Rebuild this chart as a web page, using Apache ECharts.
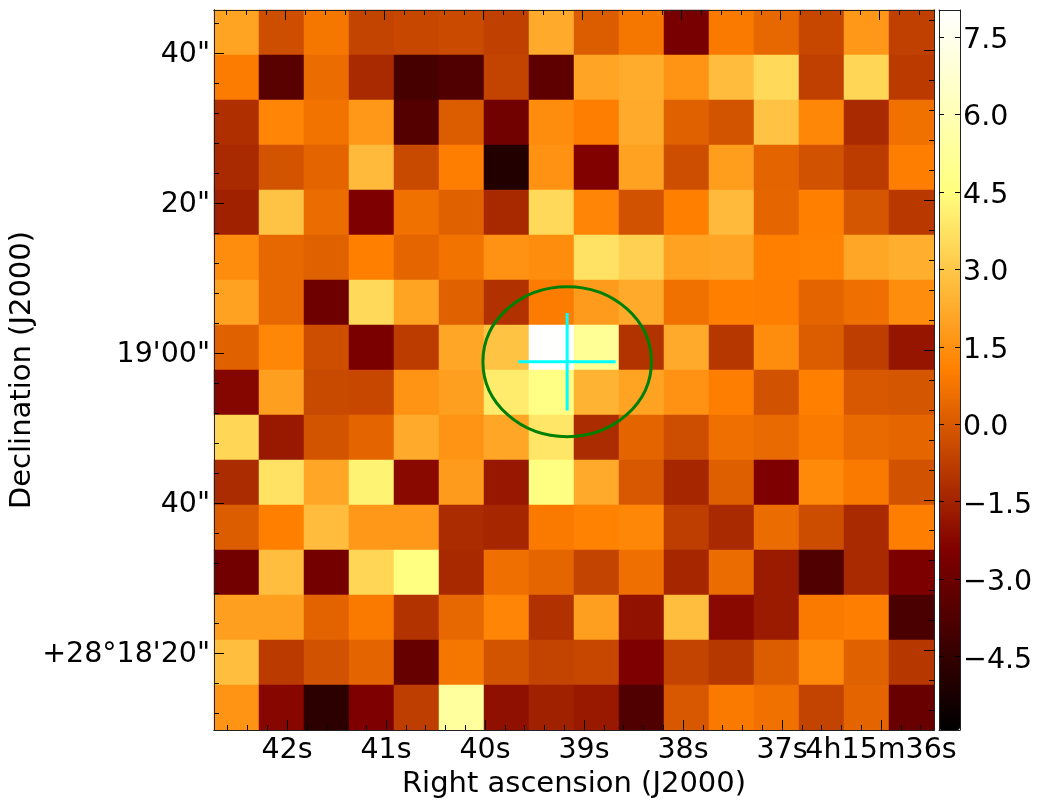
<!DOCTYPE html>
<html>
<head>
<meta charset="utf-8">
<title>Flux map</title>
<script src="https://cdn.jsdelivr.net/npm/echarts@6/dist/echarts.min.js"></script>
<style>
  html, body { margin: 0; padding: 0; background: #fff; }
  #chart { width: 1039px; height: 802px; }
</style>
</head>
<body>
<div id="chart"></div>
<script>
// pixel values, top row first, left column first
var row1 = [2.0, -0.3, 0.8, -0.6, -0.5, -0.4, -0.7, 2.2, 0.1, 0.8, -2.65, 0.9, 0.4, -0.5, 1.7, -0.7];
var row2 = [0.95, -3.5, 0.5, -1.3, -4.0, -3.75, -0.6, -3.35, 2.05, 2.25, 1.6, 2.7, 3.5, -0.7, 3.4, -0.85];
var row3 = [-1.15, 1.2, 0.7, 1.7, -3.6, 0.1, -2.85, 1.4, 1.0, 2.2, 0.2, -0.15, 2.85, 1.25, -1.3, 0.65];
var row4 = [-1.3, -0.15, 0.3, 2.65, -0.45, 1.0, -5.0, 1.55, -2.4, 1.95, -0.3, 1.85, 0.3, -0.2, -0.8, 1.0];
var row5 = [-1.55, 2.9, 0.5, -2.45, 0.65, 0.2, -1.35, 3.5, 1.2, -0.2, 1.05, 2.65, 0.35, 1.05, -0.1, -0.9];
var row6 = [1.4, 0.4, 0.2, 1.05, 0.35, 0.7, 1.55, 1.4, 3.75, 3.25, 1.95, 2.05, 1.05, 1.1, 2.1, 2.3];
var row7 = [1.95, 0.4, -2.9, 3.5, 2.0, 0.2, -1.1, 0.95, 1.8, 2.2, 0.65, 1.05, 1.0, 0.3, 0.6, 1.4];
var row8 = [0.2, 1.25, -0.3, -2.6, -0.8, 2.1, 2.9, 8.0, 5.1, -1.05, 2.2, -0.95, 1.4, 0.1, -0.75, -1.85];
var row9 = [-2.3, 1.9, -0.45, -0.5, 1.6, 1.9, 4.0, 4.7, 2.45, 2.0, 1.55, 1.0, -0.2, 1.05, -0.05, -0.1];
var row10 = [3.4, -1.75, -0.15, 0.3, 2.2, 1.6, 2.1, 3.85, -1.25, 0.3, -0.3, 0.6, 0.45, 0.9, 0.45, 0.35];
var row11 = [-1.25, 3.75, 2.1, 4.2, -2.2, 1.8, -1.8, 4.55, 2.2, -0.05, -1.4, 0.15, -2.5, 1.3, 0.9, -0.2];
var row12 = [0.1, 1.05, 2.7, 1.7, 1.7, -1.25, -1.4, 0.9, 1.1, 1.25, -0.75, -1.3, 0.5, -0.35, -1.3, 1.0];
var row13 = [-2.8, 2.75, -2.75, 3.4, 4.6, -1.35, 0.6, 0.35, -0.6, 0.6, -1.4, 0.5, -1.7, -3.75, -1.3, -2.55];
var row14 = [1.9, 1.9, 0.25, 0.9, -1.05, 0.4, 1.2, -1.1, 1.9, -1.95, 2.75, -2.2, -1.7, 0.9, 1.0, -3.9];
var row15 = [2.75, -0.85, -0.2, 0.3, -3.15, 0.8, -0.15, -0.6, -0.5, -2.5, -0.6, -0.95, 0.1, 1.3, 0.2, -0.95];
var row16 = [1.6, -2.25, -4.7, -2.45, -0.75, 5.35, -2.0, -1.55, -1.75, -3.75, -0.05, 0.9, 0.65, -0.6, 0.3, -3.1];
var rows = [row1, row2, row3, row4, row5, row6, row7, row8, row9, row10, row11, row12, row13, row14, row15, row16];

// RA in seconds of 4h15m, Dec in arcsec past +28d18m
var raRange = [35.465, 42.737];
var decRange = [9.73, 105.73];
var raMajor = [42, 41, 40, 39, 38, 37, 36];
var raLabels = ["42s", "41s", "40s", "39s", "38s", "37s", "4h15m36s"];
var raMinor = [42.6, 42.4, 42.2, 41.8, 41.6, 41.4, 41.2, 40.8, 40.6, 40.4, 40.2, 39.8, 39.6, 39.4, 39.2, 38.8, 38.6, 38.4, 38.2, 37.8, 37.6, 37.4, 37.2, 36.8, 36.6, 36.4, 36.2, 35.8, 35.6];
var decMajor = [20, 40, 60, 80, 100];
var decLabels = ["+28°18'20\"", "40\"", "19'00\"", "20\"", "40\""];
var decMinor = [12, 16, 24, 28, 32, 36, 44, 48, 52, 56, 64, 68, 72, 76, 84, 88, 92, 96, 104];

// the top and right ticks sit slightly off the bottom and left ones
var raTopMajor = [42.013, 41.013, 40.013, 39.013, 38.013, 37.013, 36.013];
var raTopMinor = [42.613, 42.413, 42.213, 41.813, 41.613, 41.413, 41.213, 40.813, 40.613, 40.413, 40.213, 39.813, 39.613, 39.413, 39.213, 38.813, 38.613, 38.413, 38.213, 37.813, 37.613, 37.413, 37.213, 36.813, 36.613, 36.413, 36.213, 35.813, 35.613];
var decRightMajor = [20.4, 40.4, 60.4, 80.4, 100.4];
var decRightMinor = [12.4, 16.4, 24.4, 28.4, 32.4, 36.4, 44.4, 48.4, 52.4, 56.4, 64.4, 68.4, 72.4, 76.4, 84.4, 88.4, 92.4, 96.4, 104.4];

var colorRange = [-5.92, 8.02];
var colorTicks = [-4.5, -3.0, -1.5, 0.0, 1.5, 3.0, 4.5, 6.0, 7.5];
var afmhot = ["#000000", "#800000", "#ff8000", "#ffff80", "#ffffff"];

var beamCenter = [39.17, 58.84];
var beamRadius = [0.851, 10];
var crossH = [[39.663, 58.84], [38.68, 58.84]];
var crossV = [[39.17, 65.34], [39.17, 52.34]];

var font = "DejaVu Sans";
var tickFontSize = 28.5;
var titleFontSize = 29;

var chart = echarts.init(document.getElementById("chart"), null, { renderer: "canvas" });

var cells = [];
rows.forEach(function (row, r) {
  row.forEach(function (v, c) {
    cells.push([c, r, v]);
  });
});
var indexes = row1.map(function (v, i) { return i; });

// helper: one overlay axis, used once per tick length per side
function tickAxis(position, gridIndex, range, ticks, len, inverse) {
  return {
    type: "value",
    gridIndex: gridIndex,
    position: position,
    min: range[0],
    max: range[1],
    inverse: !!inverse,
    z: 5,
    splitLine: { show: false },
    axisLine: { show: true, onZero: false, lineStyle: { color: "#222", width: 1 } },
    axisTick: { show: true, inside: true, length: len, customValues: ticks, lineStyle: { color: "#000", width: 1 } },
    axisLabel: { show: false },
  };
}

function raLabel(values) {
  return {
    show: true,
    customValues: values,
    margin: 6,
    hideOverlap: false,
    showMinLabel: true,
    showMaxLabel: true,
    color: "#000",
    fontFamily: font,
    fontSize: tickFontSize,
    formatter: function (v) { return raLabels[raMajor.indexOf(v)]; },
  };
}

var raAxis = tickAxis("bottom", 0, raRange, raMajor, 10, true);
raAxis.axisLabel = raLabel(raMajor.slice(0, 6));
raAxis.name = "Right ascension (J2000)";
raAxis.nameLocation = "middle";
raAxis.nameGap = 35;
raAxis.nameTextStyle = { color: "#000", fontFamily: font, fontSize: titleFontSize };

// the long 4h15m36s label touches 37s, so it goes on its own axis or one gets dropped
var raMinorAxis = tickAxis("bottom", 0, raRange, raMinor, 5, true);
raMinorAxis.axisLabel = raLabel(raMajor.slice(6));

var decAxis = tickAxis("left", 0, decRange, decMajor, 10);
decAxis.axisLabel = {
  show: true,
  customValues: decMajor,
  margin: 4,
  rich: { v: { padding: [4, 0, 0, 0], color: "#000", fontFamily: font, fontSize: tickFontSize } },
  formatter: function (v) { return "{v|" + decLabels[decMajor.indexOf(v)] + "}"; },
};
decAxis.name = "Declination (J2000)";
decAxis.nameLocation = "middle";
decAxis.nameGap = 177;
decAxis.nameMoveOverlap = false;
decAxis.nameTextStyle = { color: "#000", fontFamily: font, fontSize: titleFontSize };

var barAxis = tickAxis("right", 1, colorRange, colorTicks, 5);
barAxis.axisLabel = {
  show: true,
  customValues: colorTicks,
  margin: 3,
  rich: { v: { padding: [7, 0, 0, 0], color: "#000", fontFamily: font, fontSize: tickFontSize } },
  formatter: function (v) { return "{v|" + (v < 0 ? "\u2212" : "") + Math.abs(v).toFixed(1) + "}"; },
};

var option = {
  animation: false,
  backgroundColor: "#fff",
  grid: [
    { left: 214, top: 10, width: 720, height: 720, outerBoundsMode: "none" },
    { left: 939, top: 10, width: 21, height: 720, outerBoundsMode: "none" },
  ],
  xAxis: [
    { type: "category", gridIndex: 0, data: indexes, show: false },
    raAxis,
    raMinorAxis,
    tickAxis("top", 0, raRange, raTopMajor, 10, true),
    tickAxis("top", 0, raRange, raTopMinor, 5, true),
    { type: "value", gridIndex: 1, position: "bottom", z: 5, min: 0, max: 1, splitLine: { show: false }, axisTick: { show: false }, axisLabel: { show: false }, axisLine: { show: true, onZero: false, lineStyle: { color: "#222" } } },
    { type: "value", gridIndex: 1, position: "top", z: 5, min: 0, max: 1, splitLine: { show: false }, axisTick: { show: false }, axisLabel: { show: false }, axisLine: { show: true, onZero: false, lineStyle: { color: "#222" } } },
  ],
  yAxis: [
    { type: "category", gridIndex: 0, data: indexes, inverse: true, show: false },
    decAxis,
    tickAxis("left", 0, decRange, decMinor, 5),
    tickAxis("right", 0, decRange, decRightMajor, 10),
    tickAxis("right", 0, decRange, decRightMinor, 5),
    barAxis,
    tickAxis("left", 1, colorRange, colorTicks, 5),
  ],
  visualMap: {
    type: "continuous",
    seriesIndex: 0,
    min: colorRange[0],
    max: colorRange[1],
    left: 939,
    top: 10,
    padding: 0,
    itemWidth: 21,
    itemHeight: 720,
    text: null,
    calculable: false,
    hoverLink: false,
    z: 1,
    inRange: { color: afmhot },
  },
  series: [
    {
      name: "flux",
      type: "heatmap",
      xAxisIndex: 0,
      yAxisIndex: 0,
      data: cells,
      silent: true,
      z: 2,
    },
    {
      name: "beam",
      type: "custom",
      xAxisIndex: 1,
      yAxisIndex: 1,
      data: [[beamCenter[0], beamCenter[1], beamRadius[0], beamRadius[1]]],
      silent: true,
      z: 3,
      renderItem: function (params, api) {
        var c = api.coord([api.value(0), api.value(1)]);
        var e = api.coord([api.value(0) + api.value(2), api.value(1) + api.value(3)]);
        return {
          type: "ellipse",
          shape: { cx: c[0], cy: c[1], rx: Math.abs(e[0] - c[0]), ry: Math.abs(e[1] - c[1]) },
          style: { fill: null, stroke: "#008000", lineWidth: 3 },
        };
      },
    },
    { name: "crossH", type: "line", xAxisIndex: 1, yAxisIndex: 1, data: crossH, symbol: "none", silent: true, z: 3, lineStyle: { color: "#00ffff", width: 3 } },
    { name: "crossV", type: "line", xAxisIndex: 1, yAxisIndex: 1, data: crossV, symbol: "none", silent: true, z: 3, lineStyle: { color: "#00ffff", width: 3 } },
  ],
};
chart.setOption(option);
</script>
</body>
</html>
